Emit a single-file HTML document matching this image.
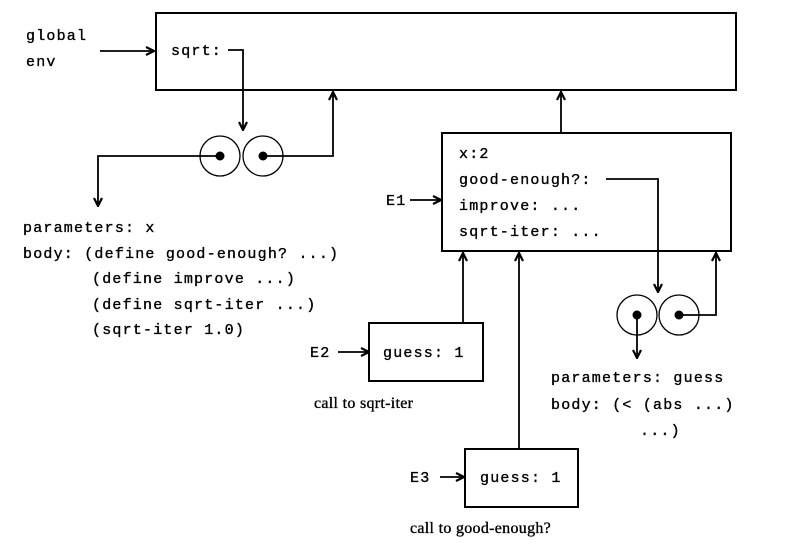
<!DOCTYPE html>
<html><head><meta charset="utf-8"><style>
html,body{margin:0;padding:0;background:#fff;}
svg text{font-family:"Liberation Mono",monospace;font-size:15px;letter-spacing:1.2px;fill:#000;stroke:#000;stroke-width:0.35px;}
.s{font-family:"Liberation Serif",serif;letter-spacing:0.3px;font-size:16px;}
</style></head><body>
<svg width="789" height="553" viewBox="0 0 789 553" xmlns="http://www.w3.org/2000/svg">
<defs><marker id="a" markerWidth="10" markerHeight="10" refX="9" refY="5" orient="auto" markerUnits="userSpaceOnUse"><path d="M1,1 L9,5 L1,9" fill="none" stroke="#000" stroke-width="2.2"/></marker></defs>
<g fill="none" stroke="#000" stroke-width="2">
<rect x="156" y="13" width="580" height="77"/>
<rect x="442" y="133" width="289" height="118"/>
<rect x="369" y="323" width="114" height="58"/>
<rect x="465" y="449" width="113" height="58"/>
</g>
<g fill="none" stroke="#000" stroke-width="1.3">
<circle cx="220" cy="156" r="20"/><circle cx="263" cy="156" r="20"/>
<circle cx="637" cy="315" r="20"/><circle cx="679" cy="315" r="20"/>
</g>
<g fill="#000"><circle cx="220" cy="156" r="4.5"/><circle cx="263" cy="156" r="4.5"/><circle cx="637" cy="315" r="4.5"/><circle cx="679" cy="315" r="4.5"/></g>
<g fill="none" stroke="#000" stroke-width="1.8" marker-end="url(#a)">
<path d="M100,51 H154"/>
<path d="M228,50 H243 V130"/>
<path d="M220,156 H98 V206"/>
<path d="M263,156 H333 V92"/>
<path d="M561,133 V92"/>
<path d="M410,200 H441"/>
<path d="M463,323 V253"/>
<path d="M519,449 V253"/>
<path d="M338,352 H369"/>
<path d="M440,477 H464"/>
<path d="M606,179 H658 V292"/>
<path d="M637,315 V358"/>
<path d="M679,315 H716 V253"/>
</g>
<text x="26" y="40">global</text>
<text x="26" y="66">env</text>
<text x="171" y="55">sqrt:</text>
<text x="23" y="232">parameters: x</text>
<text x="23" y="258">body: (define good-enough? ...)</text>
<text x="92" y="283">(define improve ...)</text>
<text x="92" y="309">(define sqrt-iter ...)</text>
<text x="92" y="334">(sqrt-iter 1.0)</text>
<text x="459" y="158">x:2</text>
<text x="459" y="184">good-enough?:</text>
<text x="459" y="210">improve: ...</text>
<text x="459" y="236">sqrt-iter: ...</text>
<text x="386" y="205">E1</text>
<text x="310" y="357">E2</text>
<text x="383" y="357">guess: 1</text>
<text class="s" x="314" y="408">call to sqrt-iter</text>
<text x="410" y="482">E3</text>
<text x="480" y="482">guess: 1</text>
<text class="s" x="410" y="533">call to good-enough?</text>
<text x="551" y="382">parameters: guess</text>
<text x="551" y="409">body: (&lt; (abs ...)</text>
<text x="640" y="435">...)</text>
</svg>
</body></html>
